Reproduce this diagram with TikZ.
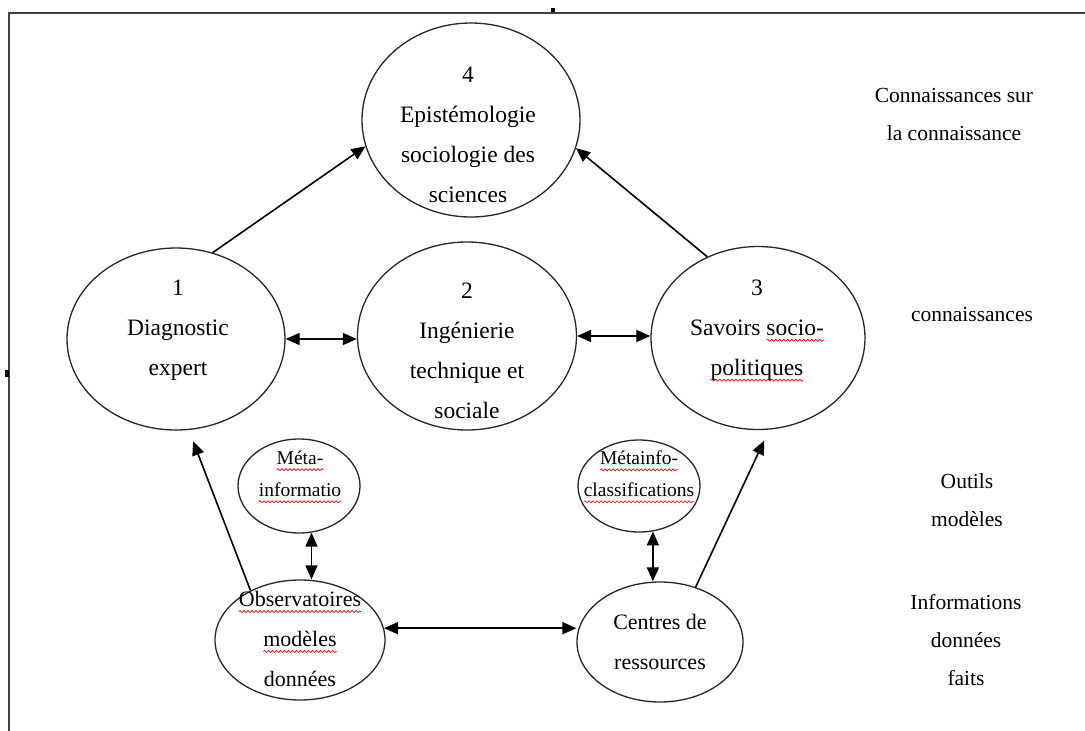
\documentclass[tikz,border=0pt]{standalone}
\usepackage{fontspec}
\setmainfont{Liberation Serif}
\usetikzlibrary{shapes.geometric,arrows.meta,decorations.pathmorphing}
\tikzset{
  ell/.style={draw=black!85, line width=1.3pt, ellipse, inner sep=0pt},
  bigtxt/.style={font=\fontsize{23.5}{40}\selectfont, align=center, inner sep=0pt},
  midtxt/.style={font=\fontsize{22}{40}\selectfont, align=center, inner sep=0pt},
  smalltxt/.style={font=\fontsize{19.5}{32}\selectfont, align=center, inner sep=0pt},
  sidetxt/.style={font=\fontsize{21.5}{38}\selectfont, align=center, inner sep=0pt},
  arr/.style={line width=1.6pt, -{Triangle[length=14pt,width=12pt]}},
  darr/.style={line width=1.6pt, {Triangle[length=14pt,width=12pt]}-{Triangle[length=14pt,width=12pt]}},
  frame/.style={draw=black!75, line width=2.2pt},
  wavy/.style={draw=red, line width=0.7pt, decorate, decoration={snake, amplitude=1pt, segment length=4pt}},
}
\newsavebox\wvbox
\newcommand\rwave[1]{\sbox\wvbox{#1}\rlap{\usebox\wvbox}\tikz[baseline=0pt]{\useasboundingbox (0pt,0pt) rectangle (\the\wd\wvbox,0.1pt); \draw[wavy] (0pt,-5pt) -- (\the\wd\wvbox,-5pt);}}
\begin{document}
\begin{tikzpicture}[x=1pt,y=-1pt]
\useasboundingbox (0,0) rectangle (1085,731);
% frame
\draw[frame] (9,731) -- (9,13) -- (1085,13);
\fill (551,8) rectangle (555,12);
\fill (5,370) rectangle (9,377);
% ellipses
\node[ell, minimum width=218pt, minimum height=194pt] (e4) at (471,120) {};
\node[ell, minimum width=218pt, minimum height=182pt] (e1) at (176,339) {};
\node[ell, minimum width=219pt, minimum height=188pt] (e2) at (467,336) {};
\node[ell, minimum width=214pt, minimum height=183pt] (e3) at (758,338) {};
\node[ell, minimum width=122pt, minimum height=94pt] (em) at (299,486) {};
\node[ell, minimum width=122pt, minimum height=92pt] (emc) at (639,486) {};
\node[ell, minimum width=170pt, minimum height=120pt] (obs) at (300,640) {};
\node[ell, minimum width=166pt, minimum height=120pt] (ctr) at (660,642) {};
% texts
\node[bigtxt] (t4) at (468,135) {4\\Epistémologie\\sociologie des\\sciences};
\node[bigtxt] (t1) at (178,330) {1\\Diagnostic\\expert};
\node[bigtxt] (t2) at (467,351) {2\\Ingénierie\\technique et\\sociale};
\node[bigtxt] (t3) at (757,330) {3\\Savoirs \rwave{socio-}\\\rwave{politiques}};
\node[smalltxt] (tm) at (300,474) {\rwave{Méta-}\\\rwave{informatio}};
\node[smalltxt] (tc) at (639,474) {\rwave{Métainfo-}\\\rwave{classifications}};
\node[midtxt] (to) at (300,639) {\rwave{Observatoires}\\\rwave{modèles}\\données};
\node[midtxt] (tr) at (660,642) {Centres de\\ressources};
% side labels
\node[sidetxt] (s4) at (954,114) {Connaissances sur\\la connaissance};
\node[sidetxt] (s3) at (972,314) {connaissances};
\node[sidetxt] (s2) at (967,500) {Outils\\modèles};
\node[sidetxt] (s1) at (966,640) {Informations\\données\\faits};
% connectors
\draw[arr] (e1.67) -- (e4.194);
\draw[arr] (e3.122) -- (e4.-15);
\draw[darr] (e1.east) -- (e1.east -| e2.west);
\draw[darr] (e2.east) -- (e2.east -| e3.west);
\draw[arr, shorten >=12pt] (obs.135) -- (e1.-82);
\draw[arr, shorten >=12pt] (ctr.57) -- (e3.-83);
\draw[darr] (em.-75) -- (em.-75 |- obs.north);
\draw[darr] (emc.-73) -- (emc.-73 |- ctr.north);
\draw[darr] (obs.8) -- (obs.8 -| ctr.west);
\end{tikzpicture}
\end{document}
